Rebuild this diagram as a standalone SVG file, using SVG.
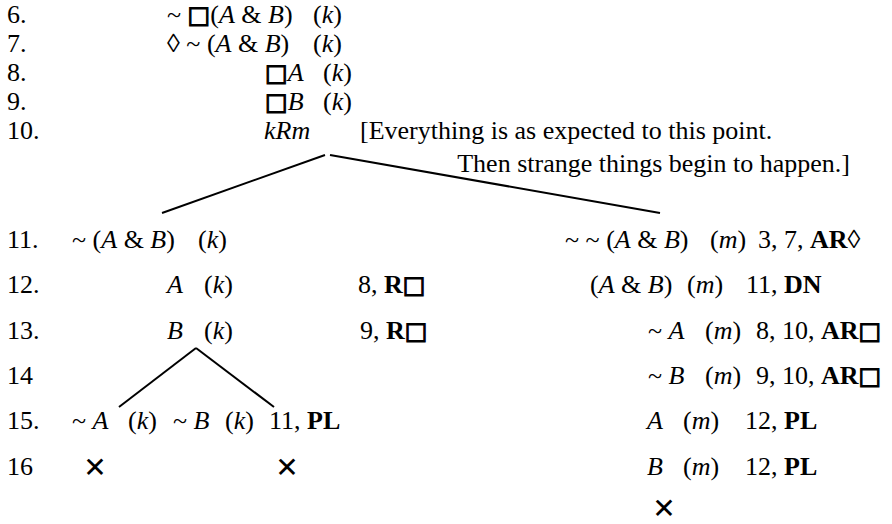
<svg xmlns="http://www.w3.org/2000/svg" width="892" height="524" viewBox="0 0 892 524">
<style>
text{font-family:"Liberation Serif","Times New Roman",serif;font-size:26px;fill:#000}
.i{font-style:italic}
.b{font-weight:bold}
.sq{font-family:"DejaVu Sans",sans-serif;font-size:24px;stroke:#000;stroke-width:1.1}
.x{font-family:"DejaVu Sans",sans-serif;font-size:28px;font-weight:bold}
.ln{stroke:#000;stroke-width:2;fill:none}
</style>
<rect width="892" height="524" fill="#fff"/>
<g id="numbers">
<text x="7" y="23">6.</text>
<text x="7" y="52">7.</text>
<text x="7" y="81">8.</text>
<text x="7" y="110">9.</text>
<text x="7" y="139">10.</text>
<text x="7" y="248">11.</text>
<text x="7" y="293">12.</text>
<text x="7" y="339">13.</text>
<text x="7" y="384">14</text>
<text x="7" y="429">15.</text>
<text x="7" y="475">16</text>
</g>
<g id="n6"><text x="167" y="23">~ <tspan class="sq">□</tspan>(<tspan class="i">A</tspan> &amp; <tspan class="i">B</tspan>)</text><text x="313" y="23">(<tspan class="i">k</tspan>)</text></g>
<g id="n7"><text x="167" y="52">◊ ~ (<tspan class="i">A</tspan> &amp; <tspan class="i">B</tspan>)</text><text x="313" y="52">(<tspan class="i">k</tspan>)</text></g>
<g id="n8"><text x="265" y="81"><tspan class="sq">□</tspan><tspan class="i">A</tspan></text><text x="323" y="81">(<tspan class="i">k</tspan>)</text></g>
<g id="n9"><text x="265" y="110"><tspan class="sq">□</tspan><tspan class="i">B</tspan></text><text x="323" y="110">(<tspan class="i">k</tspan>)</text></g>
<g id="n10"><text x="264" y="139" class="i">kRm</text></g>
<g id="comment"><text x="360" y="139">[Everything is as expected to this point.</text><text x="850" y="172" text-anchor="end">Then strange things begin to happen.]</text></g>
<g id="connectors">
<line class="ln" x1="325" y1="155" x2="162" y2="213"/>
<line class="ln" x1="330" y1="155" x2="660" y2="213"/>
<line class="ln" x1="196" y1="348" x2="119" y2="407"/>
<line class="ln" x1="196" y1="348" x2="274" y2="407"/>
</g>
<g id="n11L"><text x="72" y="248">~ (<tspan class="i">A</tspan> &amp; <tspan class="i">B</tspan>)</text><text x="198" y="248">(<tspan class="i">k</tspan>)</text></g>
<g id="n12L"><text x="167" y="293" class="i">A</text><text x="204" y="293">(<tspan class="i">k</tspan>)</text><text x="358" y="293">8, <tspan class="b">R</tspan><tspan class="sq">□</tspan></text></g>
<g id="n13L"><text x="167" y="339" class="i">B</text><text x="204" y="339">(<tspan class="i">k</tspan>)</text><text x="360" y="339">9, <tspan class="b">R</tspan><tspan class="sq">□</tspan></text></g>
<g id="n15L"><text x="72" y="429">~ <tspan class="i">A</tspan></text><text x="128" y="429">(<tspan class="i">k</tspan>)</text><text x="173" y="429">~ <tspan class="i">B</tspan></text><text x="225" y="429">(<tspan class="i">k</tspan>)</text><text x="269" y="429">11, <tspan class="b">PL</tspan></text></g>
<g id="x16L"><text x="95" y="477" class="x" text-anchor="middle">✕</text><text x="287" y="477" class="x" text-anchor="middle">✕</text></g>
<g id="n11R"><text x="565" y="248">~ ~ (<tspan class="i">A</tspan> &amp; <tspan class="i">B</tspan>)</text><text x="710" y="248">(<tspan class="i">m</tspan>)</text><text x="758" y="248">3, 7, <tspan class="b">AR</tspan>◊</text></g>
<g id="n12R"><text x="590" y="293">(<tspan class="i">A</tspan> &amp; <tspan class="i">B</tspan>)</text><text x="687" y="293">(<tspan class="i">m</tspan>)</text><text x="746" y="293">11, <tspan class="b">DN</tspan></text></g>
<g id="n13R"><text x="648" y="339">~ <tspan class="i">A</tspan></text><text x="705" y="339">(<tspan class="i">m</tspan>)</text><text x="756" y="339">8, 10, <tspan class="b">AR</tspan><tspan class="sq">□</tspan></text></g>
<g id="n14R"><text x="648" y="384">~ <tspan class="i">B</tspan></text><text x="705" y="384">(<tspan class="i">m</tspan>)</text><text x="756" y="384">9, 10, <tspan class="b">AR</tspan><tspan class="sq">□</tspan></text></g>
<g id="n15R"><text x="647" y="429" class="i">A</text><text x="683" y="429">(<tspan class="i">m</tspan>)</text><text x="745" y="429">12, <tspan class="b">PL</tspan></text></g>
<g id="n16R"><text x="647" y="475" class="i">B</text><text x="683" y="475">(<tspan class="i">m</tspan>)</text><text x="745" y="475">12, <tspan class="b">PL</tspan></text></g>
<g id="x17R"><text x="664" y="518" class="x" text-anchor="middle">✕</text></g>
</svg>
